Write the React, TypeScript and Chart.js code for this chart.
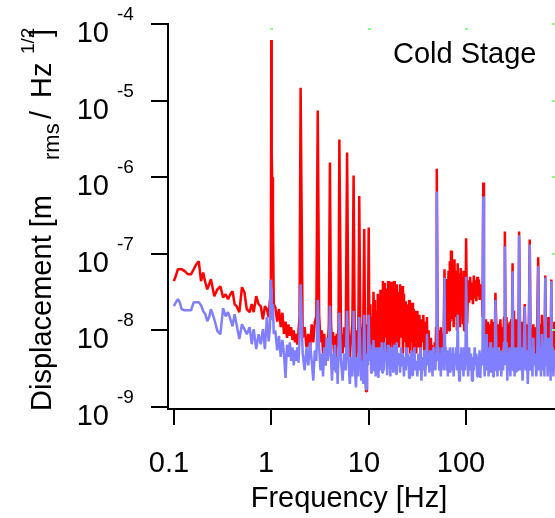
import React, { useEffect, useRef } from "react";
import { Chart, registerables } from "chart.js";

Chart.register(...registerables);

// Frequency bins [Hz]
const freqs: number[] = [
  0.1, 0.105, 0.11, 0.115, 0.12, 0.13, 0.14, 0.15, 0.16, 0.17, 0.18, 0.19, 0.2, 0.21, 0.22, 0.23, 0.24, 0.26, 0.28, 0.3,
  0.32, 0.34, 0.36, 0.38, 0.4, 0.42, 0.44, 0.47, 0.5, 0.53, 0.56, 0.6, 0.63, 0.66, 0.7, 0.74, 0.78, 0.82, 0.86, 0.9,
  0.94, 0.97,
  0.98, 0.99, 1.0, 1.01, 1.02, 1.04, 1.06,
  1.1, 1.15, 1.2, 1.25, 1.3, 1.35, 1.4, 1.45, 1.5, 1.55, 1.6, 1.65, 1.7, 1.75, 1.8, 1.85, 1.9, 1.95, 2.0,
  2.1, 2.2, 2.3, 2.4, 2.5, 2.6, 2.7, 2.8, 2.9, 3.0, 3.1, 3.2, 3.3, 3.4, 3.5, 3.6, 3.7, 3.8, 3.9, 4.0,
  4.1, 4.2, 4.3, 4.4, 4.5, 4.6, 4.7, 4.8, 4.9, 5.0,
  5.2, 5.4, 5.6, 5.8, 6.0, 6.2, 6.4, 6.6, 6.8, 7.0, 7.2, 7.4, 7.6, 7.8, 8.0, 8.2, 8.4, 8.6, 8.8, 9.0,
  9.2, 9.4, 9.6, 9.8, 10,
  10.2, 10.4, 10.6, 10.8, 11.0, 11.2, 11.4, 11.6, 11.8, 12.0, 12.2, 12.4, 12.6, 12.8, 13.0, 13.2, 13.4, 13.6, 13.8, 14.0,
  14.3, 14.6, 14.9, 15.2, 15.5, 15.8, 16.1, 16.4, 16.7, 17.0, 17.3, 17.6, 17.9, 18.2, 18.5, 18.8, 19.1, 19.4, 19.7, 20.0,
  20.5, 21, 21.5, 22, 22.5, 23, 23.5, 24, 24.5, 25, 25.5, 26, 26.5, 27, 27.5, 28, 28.5, 29, 29.5, 30,
  30.8, 31.6, 32.4, 33.2, 34, 34.8, 35.6, 36.4, 37.2, 38, 38.8, 39.6, 40.4, 41.2, 42, 42.8, 43.6, 44.4, 45.2, 46,
  46.8, 47.6, 48.4, 49.2, 50,
  51, 52, 53, 54, 55, 56, 57, 58, 59, 60, 61, 62, 63, 64, 65, 66, 67, 68, 69, 70,
  71.5, 73, 74.5, 76, 77.5, 79, 80.5, 82, 83.5, 85, 86.5, 88, 89.5, 91, 92.5, 94, 95.5, 97, 98.5, 100,
  102.5, 105, 107.5, 110, 112.5, 115, 117.5, 120, 122.5, 125, 127.5, 130, 132.5, 135, 137.5, 140, 142.5, 145, 147.5, 150,
  152.5, 155, 157.5, 160, 162.5, 165, 167.5, 170, 172.5, 175, 177.5, 180, 182.5, 185, 187.5, 190, 192.5, 195, 197.5, 200,
  205, 210, 215, 220, 225, 230, 235, 240, 245, 250, 255, 260, 265, 270, 275, 280, 285, 290, 295, 300,
  305, 310, 315, 320, 325, 330, 335, 340, 345, 350,
  360, 370, 380, 390, 400, 410, 420, 430, 440, 450, 460, 470, 480, 490, 500,
  512.5, 525, 537.5, 550, 562.5, 575, 587.5, 600, 612.5, 625, 637.5, 650, 662.5, 675, 687.5, 700, 712.5, 725, 737.5, 750,
  762.5, 775, 787.5, 800, 812.5, 825,
];

// Red trace [m_rms/Hz^1/2]
const redVals: number[] = [
  4.4e-8, 5.2e-8, 6.3e-8, 6.3e-8, 6.3e-8, 5.9e-8, 5.4e-8, 5.4e-8, 6.3e-8, 7.3e-8, 8.0e-8, 4.4e-8, 5.7e-8, 4.25e-8, 3.44e-8, 4.0e-8, 4.65e-8, 2.8e-8, 3.44e-8, 3.77e-8,
  2.7e-8, 2.96e-8, 2.55e-8, 2.96e-8, 3.24e-8, 2.2e-8, 2.07e-8, 1.73e-8, 3.66e-8, 3.15e-8, 1.9e-8, 1.73e-8, 2.2e-8, 1.73e-8, 2.8e-8, 2.2e-8, 2.07e-8, 1.4e-8, 2.07e-8, 1.9e-8,
  1.49e-8, 2.55e-8,
  2.5e-8, 2.0e-8, 6.2e-5, 2.0e-6, 1.0e-6, 2.8e-7, 2.2e-8,
  2.0e-8, 1.3e-8, 1.9e-8, 1.1e-8, 1.7e-8, 9e-9, 1.3e-8, 8e-9, 1.2e-8, 8.5e-9, 1.1e-8, 7.5e-9, 1.0e-8, 7e-9, 9e-9, 6.5e-9, 9.5e-9, 1.5e-8, 1.47e-5,
  8e-9, 1.1e-8, 6e-9, 9e-9, 5.5e-9, 1.2e-8, 7e-9, 1.3e-8, 1.5e-8, 7.4e-6, 1.6e-8, 7e-9, 1.0e-8, 5e-9, 9e-9, 3.5e-9, 8e-9, 6e-9, 1.2e-8, 1.55e-6,
  1.3e-8, 6.5e-9, 9.5e-9, 5e-9, 8.5e-9, 4e-9, 9e-9, 6e-9, 1.1e-8, 3.1e-6,
  9e-9, 5e-9, 1.1e-8, 6e-9, 2.1e-6, 1.0e-8, 4.5e-9, 8e-9, 1.2e-8, 1.05e-6, 7e-9, 3.5e-9, 1.0e-8, 5e-9, 5.7e-7, 1.1e-8, 2.5e-9, 8e-9, 1.3e-8, 2.1e-7,
  6e-9, 1.6e-9, 1.2e-8, 7e-9, 2.2e-7,
  6e-9, 2.2e-8, 5e-9, 1.5e-8, 4e-9, 3.2e-8, 7e-9, 2.5e-8, 4.5e-9, 1.8e-8, 6e-9, 3e-8, 3.5e-9, 2.2e-8, 6e-9, 3.4e-8, 5e-9, 2.8e-8, 7e-9, 4.4e-8,
  5e-9, 4.2e-8, 8e-9, 3.5e-8, 5e-9, 4.4e-8, 6e-9, 3.8e-8, 4e-9, 4.3e-8, 7e-9, 3.3e-8, 5e-9, 4.4e-8, 9e-9, 3.6e-8, 5e-9, 4e-8, 6e-9, 3.2e-8,
  6e-9, 4e-8, 8e-9, 3.8e-8, 5e-9, 3e-8, 7e-9, 2.4e-8, 4.5e-9, 2.2e-8, 6e-9, 2.5e-8, 5e-9, 2e-8, 7e-9, 2.3e-8, 4e-9, 1.9e-8, 6e-9, 1.8e-8,
  5e-9, 1.8e-8, 6e-9, 1.6e-8, 4e-9, 1.4e-8, 7e-9, 1.6e-8, 5e-9, 1.3e-8, 6e-9, 1.5e-8, 4e-9, 1.0e-8, 5e-9, 8e-9, 3.5e-9, 6.5e-9, 3e-9, 5.5e-9,
  3.5e-9, 7e-9, 4e-9, 1.1e-8, 1.29e-6,
  1.2e-8, 6e-9, 1.0e-8, 5e-9, 1.1e-8, 6e-9, 9e-9, 5e-9, 1.2e-8, 6.3e-8, 1.1e-8, 3.5e-8, 9e-9, 4.7e-8, 1.2e-8, 6e-8, 1.0e-8, 8e-8, 1.3e-8, 1.1e-7,
  1.4e-8, 7e-8, 1.1e-8, 8.5e-8, 1.5e-8, 6e-8, 1.0e-8, 7.5e-8, 1.4e-8, 5.5e-8, 1.1e-8, 6.5e-8, 1.6e-8, 5e-8, 1.2e-8, 6e-8, 1.0e-8, 4.5e-8, 1.3e-8, 1.6e-7,
  1.2e-8, 4.5e-8, 2.3e-8, 5e-8, 2.5e-8, 4.2e-8, 2.2e-8, 5.2e-8, 2.6e-8, 4.5e-8, 2.4e-8, 5e-8, 2.8e-8, 4.6e-8, 2.5e-8, 4e-8, 2.7e-8, 3.8e-8, 1.5e-8, 8.5e-7,
  1.2e-8, 6e-9, 1.4e-8, 7e-9, 1.1e-8, 5e-9, 1.3e-8, 6e-9, 1.0e-8, 5.5e-9, 1.2e-8, 6e-9, 1.4e-8, 5e-9, 1.1e-8, 7e-9, 1.3e-8, 6e-9, 1.0e-8, 3.1e-8,
  1.0e-8, 5e-9, 1.2e-8, 6e-9, 1.4e-8, 5e-9, 1.1e-8, 6e-9, 1.5e-8, 1.96e-7, 7e-9, 1.5e-8, 4e-9, 1.2e-8, 6e-9, 1.3e-8, 5e-9, 1.4e-8, 8e-9, 7.5e-8,
  5e-9, 1.8e-8, 6e-9, 1.2e-8, 5e-9, 1.4e-8, 6e-9, 1.1e-8, 7e-9, 1.96e-7,
  6e-9, 1.3e-8, 4e-9, 1.1e-8, 2.2e-8, 5e-9, 1.2e-8, 3.5e-9, 1e-8, 1.54e-7, 5e-9, 1.1e-8, 4e-9, 1.2e-8, 6e-9,
  1.1e-8, 4e-9, 1.3e-8, 9e-8, 5e-9, 1.2e-8, 4e-9, 1.6e-8, 6e-9, 1.0e-8, 4e-9, 5.2e-8, 6e-9, 1.2e-8, 4e-9, 1.5e-8, 5e-9, 1.1e-8, 4e-9, 4.6e-8,
  6e-9, 1.2e-8, 4e-9, 1.3e-8, 5e-9, 1e-8,
];

// Blue trace [m_rms/Hz^1/2]
const blueVals: number[] = [
  2.07e-8, 2.33e-8, 2.55e-8, 2.33e-8, 1.89e-8, 1.83e-8, 1.83e-8, 1.83e-8, 2.33e-8, 2.33e-8, 2.33e-8, 2.13e-8, 1.78e-8, 1.63e-8, 1.32e-8, 1.49e-8, 1.89e-8, 1.4e-8, 9.8e-9, 8.9e-9,
  1.95e-8, 1.53e-8, 1.73e-8, 1.4e-8, 1.13e-8, 1.63e-8, 1.2e-8, 7.7e-9, 1.2e-8, 1.04e-8, 8.9e-9, 1.1e-8, 6.6e-9, 1.04e-8, 5.7e-9, 8.9e-9, 6.6e-9, 1.04e-8, 5.7e-9, 1.49e-8,
  7.2e-9, 1.1e-8,
  4.6e-8, 4.0e-8, 3.4e-8, 2.6e-8, 1.4e-8, 2.2e-8, 9e-9,
  1.0e-8, 5.5e-9, 8.5e-9, 4.5e-9, 7.5e-9, 5e-9, 2.4e-9, 6.5e-9, 4.5e-9, 7e-9, 4e-9, 6e-9, 3.5e-9, 5.5e-9, 4e-9, 6e-9, 3.8e-9, 8e-9, 4e-8,
  5e-9, 3e-9, 6e-9, 3.5e-9, 7e-9, 4e-9, 2.2e-9, 5.5e-9, 4e-9, 2.5e-8, 6e-9, 3e-9, 5e-9, 2.5e-9, 6e-9, 3.5e-9, 8e-9, 4e-9, 5.5e-9, 2.1e-8,
  4.5e-9, 2.2e-9, 5e-9, 3e-9, 6.5e-9, 2.8e-9, 4.5e-9, 2e-9, 5e-9, 1.7e-8,
  4e-9, 2.2e-9, 5e-9, 3e-9, 1.8e-8, 4e-9, 2e-9, 4.5e-9, 2.5e-9, 1.8e-8, 3.5e-9, 1.8e-9, 4.5e-9, 2.5e-9, 1.5e-8, 5e-9, 2.2e-9, 4e-9, 2e-9, 1.6e-8,
  3e-9, 1.7e-9, 5e-9, 3.5e-9, 1.6e-8,
  4e-9, 6.5e-9, 2.8e-9, 5e-9, 3.5e-9, 7.5e-9, 3e-9, 5.5e-9, 2.5e-9, 6e-9, 3.5e-9, 4.5e-9, 2.4e-9, 6e-9, 3e-9, 5e-9, 3.5e-9, 7e-9, 2.8e-9, 5.5e-9,
  3e-9, 7e-9, 4e-9, 5e-9, 2.6e-9, 6.5e-9, 3.5e-9, 5e-9, 2.5e-9, 6e-9, 3.2e-9, 4.5e-9, 2.8e-9, 6.5e-9, 3.5e-9, 5.5e-9, 2.7e-9, 7e-9, 3.5e-9, 5e-9,
  4.5e-9, 2.8e-9, 6e-9, 3.5e-9, 5e-9, 2.5e-9, 4.5e-9, 3e-9, 6e-9, 3.5e-9, 5e-9, 2.4e-9, 4.5e-9, 3e-9, 5.5e-9, 2.6e-9, 4.5e-9, 3.5e-9, 6e-9, 3e-9,
  4e-9, 2.5e-9, 5e-9, 3e-9, 6e-9, 2.2e-9, 4.5e-9, 3e-9, 5.5e-9, 2.5e-9, 4e-9, 9e-9, 3.5e-9, 5e-9, 2.8e-9, 5.5e-9, 3e-9, 4.5e-9, 2.5e-9, 6e-9,
  3.5e-9, 5e-9, 3e-9, 5e-9, 6.5e-7,
  4e-9, 6e-9, 3e-9, 5e-9, 2.5e-9, 6e-9, 3.5e-9, 5e-9, 3e-9, 4.9e-8, 4e-9, 6e-9, 3e-9, 5.5e-9, 2.5e-9, 5e-9, 3.5e-9, 6e-9, 2.8e-9, 5e-9,
  3e-9, 6e-9, 2.5e-9, 5e-9, 3.5e-9, 6e-9, 3e-9, 1.6e-8, 4e-9, 2.2e-9, 5e-9, 3e-9, 6e-9, 3.5e-9, 5e-9, 2.5e-9, 6e-9, 3e-9, 4.5e-9, 5e-8,
  5e-9, 2.5e-9, 6e-9, 3e-9, 5e-9, 2.2e-9, 4.5e-9, 3e-9, 6e-9, 3.5e-9, 5e-9, 2.5e-9, 4.5e-9, 3e-9, 5.5e-9, 2.4e-9, 5e-9, 3.5e-9, 6e-9, 5.6e-7,
  5e-9, 2.5e-9, 6.5e-9, 3e-9, 9e-9, 3.5e-9, 6e-9, 2.5e-9, 5e-9, 3e-9, 7e-9, 2.8e-9, 5e-9, 3.5e-9, 6e-9, 2.5e-9, 5.5e-9, 3e-9, 5e-9, 2.5e-8,
  5e-9, 2.5e-9, 6e-9, 3e-9, 5.5e-9, 2.5e-9, 5e-9, 3e-9, 7e-9, 1.25e-7, 3.5e-9, 7e-9, 2.2e-9, 5e-9, 3e-9, 6e-9, 2.5e-9, 5.5e-9, 3e-9, 5.9e-8,
  3e-9, 6e-9, 2.5e-9, 5e-9, 2.8e-9, 6e-9, 3e-9, 5e-9, 3.5e-9, 1.74e-7,
  3e-9, 6e-9, 2.2e-9, 4.5e-9, 2.07e-8, 3e-9, 5.5e-9, 2e-9, 5e-9, 1.32e-7, 3e-9, 6e-9, 2.5e-9, 8e-9, 3.5e-9,
  5e-9, 2.5e-9, 4e-9, 6.9e-8, 3e-9, 6e-9, 2.5e-9, 9e-9, 3e-9, 5e-9, 2.5e-9, 4.9e-8, 3.5e-9, 6e-9, 2.5e-9, 8e-9, 3e-9, 5e-9, 2.2e-9, 4.4e-8,
  3e-9, 6e-9, 2.5e-9, 5.5e-9, 3e-9, 5e-9,
];

const yTickExps: number[] = [-4, -5, -6, -7, -8, -9];
const xTickVals: number[] = [0.1, 1, 10, 100];
const xTickLabels: string[] = ["0.1", "1", "10", "100"];
const topMarkVals: number[] = [1, 10, 100];
const titleText = "Cold Stage";
const xTitle = "Frequency [Hz]";
const yTitleParts = ["Displacement [m", "rms", "/", "Hz", "1/2", "]"];

const FONT = "'Liberation Sans', Arial, Helvetica, sans-serif";

const igorPlugin = {
  id: "igorAxes",
  afterDraw(chart: any) {
    const ctx: CanvasRenderingContext2D = chart.ctx;
    const xs = chart.scales.x;
    const ys = chart.scales.y;
    ctx.save();
    ctx.strokeStyle = "#000";
    ctx.fillStyle = "#000";
    ctx.lineWidth = 2;
    ctx.lineCap = "butt";

    // left axis
    const axX = 168;
    const yTop = ys.getPixelForValue(1e-4);
    const yBot = ys.getPixelForValue(1e-9);
    ctx.beginPath();
    ctx.moveTo(axX, yTop - 1);
    ctx.lineTo(axX, yBot + 1);
    ctx.stroke();
    yTickExps.forEach((e) => {
      const py = Math.round(ys.getPixelForValue(Math.pow(10, e)));
      ctx.beginPath();
      ctx.moveTo(151, py);
      ctx.lineTo(axX, py);
      ctx.stroke();
      ctx.textAlign = "right";
      ctx.textBaseline = "alphabetic";
      ctx.font = `29px ${FONT}`;
      ctx.fillText("10", 109, py + 18);
      ctx.textAlign = "left";
      ctx.font = `19px ${FONT}`;
      ctx.fillText(String(e), 117, py - 4);
    });

    // bottom axis
    const axY = 409;
    ctx.beginPath();
    ctx.moveTo(axX - 1, axY);
    ctx.lineTo(555, axY);
    ctx.stroke();
    xTickVals.forEach((v, i) => {
      const px = Math.round(xs.getPixelForValue(v));
      ctx.beginPath();
      ctx.moveTo(px, axY);
      ctx.lineTo(px, 425);
      ctx.stroke();
      ctx.textAlign = "center";
      ctx.font = `29px ${FONT}`;
      ctx.fillText(xTickLabels[i], px - 5, 472);
    });

    // faint green marks (mirror axes)
    ctx.fillStyle = "#88ff88";
    yTickExps.slice(0, 5).forEach((e) => {
      const py = Math.round(ys.getPixelForValue(Math.pow(10, e)));
      ctx.fillRect(552, py - 1, 3, 2);
    });
    topMarkVals.forEach((v) => {
      const px = Math.round(xs.getPixelForValue(v));
      ctx.fillRect(px - 1, 28, 3, 2);
    });

    ctx.fillStyle = "#000";
    // titles
    ctx.textAlign = "center";
    ctx.font = `29px ${FONT}`;
    ctx.fillText(xTitle, 349, 507);
    ctx.textAlign = "left";
    ctx.fillText(titleText, 393, 63);

    // rotated y title
    const parts = [
      { t: yTitleParts[0], size: 29, bx: 51, sy: 411 },
      { t: yTitleParts[1], size: 22, bx: 59, sy: 160 },
      { t: yTitleParts[2], size: 29, bx: 51, sy: 119 },
      { t: yTitleParts[3], size: 29, bx: 51, sy: 98 },
      { t: yTitleParts[4], size: 19, bx: 34, sy: 54 },
      { t: yTitleParts[5], size: 29, bx: 51, sy: 37 },
    ];
    parts.forEach((p) => {
      ctx.save();
      ctx.translate(p.bx, p.sy);
      ctx.rotate(-Math.PI / 2);
      ctx.font = `${p.size}px ${FONT}`;
      ctx.textAlign = "left";
      ctx.textBaseline = "alphabetic";
      ctx.fillText(p.t, 0, 0);
      ctx.restore();
    });
    ctx.restore();
  },
};

export default function App() {
  const canvasRef = useRef<HTMLCanvasElement | null>(null);

  useEffect(() => {
    const canvas = canvasRef.current;
    if (!canvas) return;
    const redData = freqs.map((f, i) => ({ x: f, y: redVals[i] }));
    const blueData = freqs.map((f, i) => ({ x: f, y: blueVals[i] }));
    const chart = new Chart(canvas, {
      type: "line",
      data: {
        datasets: [
          {
            label: "blue",
            data: blueData,
            borderColor: "#8080ff",
            backgroundColor: "#8080ff",
            borderWidth: 2.5,
            pointRadius: 0,
            tension: 0,
            borderJoinStyle: "bevel",
            order: 0,
            clip: false as any,
          },
          {
            label: "red",
            data: redData,
            borderColor: "#ff0000",
            backgroundColor: "#ff0000",
            borderWidth: 2.5,
            pointRadius: 0,
            tension: 0,
            borderJoinStyle: "bevel",
            order: 1,
            clip: false as any,
          },
        ],
      },
      options: {
        animation: false,
        responsive: false,
        devicePixelRatio: 1,
        events: [],
        layout: { padding: { left: 169, right: 0, top: 24, bottom: 111 } },
        plugins: { legend: { display: false }, tooltip: { enabled: false } },
        scales: {
          x: {
            type: "logarithmic",
            min: 0.0891,
            max: 818,
            bounds: "data",
            display: false,
          },
          y: {
            type: "logarithmic",
            min: 1e-9,
            max: 1e-4,
            bounds: "data",
            display: false,
          },
        },
      },
      plugins: [igorPlugin],
    });
    return () => chart.destroy();
  }, []);

  return (
    <div style={{ position: "absolute", left: 0, top: 0, width: 555, height: 518, background: "#fff" }}>
      <canvas ref={canvasRef} width={555} height={518} style={{ display: "block" }} />
    </div>
  );
}
